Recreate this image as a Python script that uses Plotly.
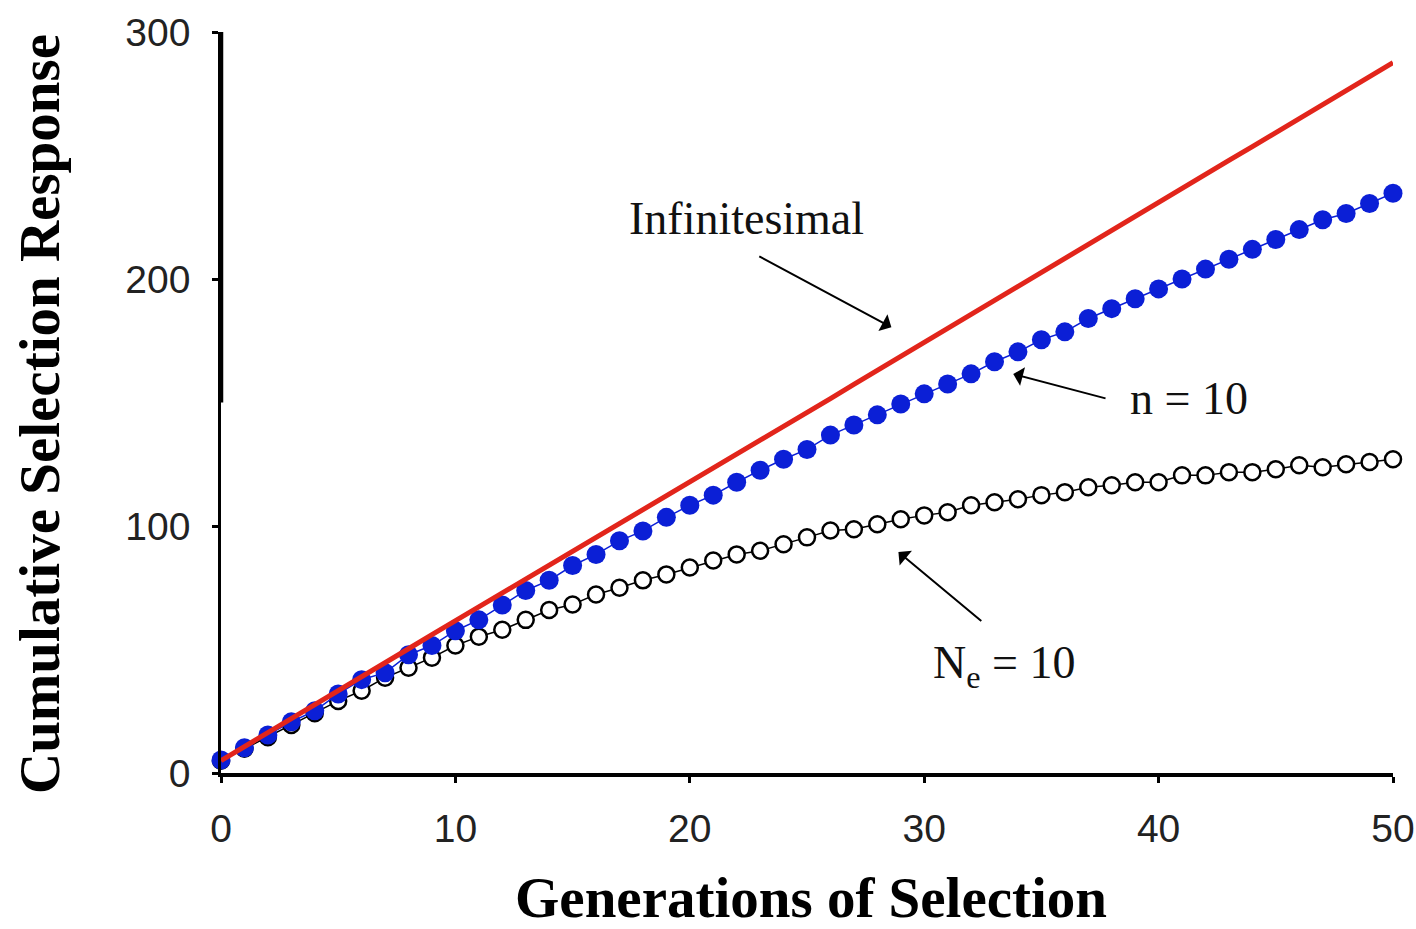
import plotly.graph_objects as go

generations = list(range(51))

infinitesimal = [5.0, 10.6, 16.3, 22.0, 27.6, 33.3, 39.0, 44.6, 50.3, 56.0,
                 61.6, 67.3, 73.0, 78.6, 84.3, 90.0, 95.5, 101.0, 106.5, 112.0,
                 117.5, 123.2, 129.0, 134.6, 140.3, 146.0, 151.6, 157.3, 163.0, 168.6,
                 174.3, 180.0, 185.6, 191.3, 197.0, 202.6, 208.3, 214.0, 219.6, 225.3,
                 231.0, 236.6, 242.3, 248.0, 253.6, 259.3, 265.0, 270.6, 276.3, 282.0,
                 287.6]

n10 = [5.3, 10.2, 15.4, 20.7, 25.2, 32.0, 37.8, 40.6, 47.9, 51.6,
       57.6, 62.0, 68.0, 73.9, 78.0, 84.0, 88.5, 94.0, 98.0, 103.5,
       108.4, 112.5, 117.7, 122.6, 127.0, 131.0, 136.8, 140.9, 145.0, 149.4,
       153.5, 157.5, 161.6, 166.5, 170.5, 175.4, 178.6, 184.0, 188.0, 192.0,
       196.0, 200.0, 204.0, 208.0, 212.0, 216.0, 220.0, 224.0, 226.5, 230.6,
       234.7]

ne10 = [5.0, 9.8, 14.5, 19.4, 24.2, 29.2, 33.3, 38.6, 42.6, 46.7,
        51.6, 55.2, 58.0, 62.0, 66.0, 68.2, 72.3, 75.0, 78.0, 80.4,
        83.2, 86.0, 88.5, 90.0, 92.6, 95.4, 98.2, 98.7, 100.7, 102.7,
        104.3, 105.6, 108.4, 109.6, 110.8, 112.5, 113.7, 115.7, 116.5, 117.7,
        117.7, 120.5, 120.5, 121.8, 121.8, 123.0, 124.6, 123.8, 125.0, 125.9,
        127.0]

x_ticks = [0, 10, 20, 30, 40, 50]
y_ticks = [0, 100, 200, 300]

fig = go.Figure()

fig.add_trace(go.Scatter(
    x=generations, y=ne10, mode="lines+markers",
    line=dict(color="black", width=1.5),
    marker=dict(symbol="circle", size=16, color="white",
                line=dict(color="black", width=2.5)),
    cliponaxis=False, showlegend=False, name="Ne = 10"))

fig.add_trace(go.Scatter(
    x=generations, y=n10, mode="lines+markers",
    line=dict(color="#0b1fd6", width=1.5),
    marker=dict(symbol="circle", size=19, color="#0b1fd6"),
    cliponaxis=False, showlegend=False, name="n = 10"))

fig.add_trace(go.Scatter(
    x=generations, y=infinitesimal, mode="lines",
    line=dict(color="#e2251b", width=5),
    cliponaxis=False, showlegend=False, name="Infinitesimal"))

text_font = dict(family="Liberation Serif", size=46, color="#111")
arrow_common = dict(showarrow=True, text="", arrowhead=1, arrowsize=1.6,
                    arrowwidth=2, arrowcolor="black", axref="x", ayref="y")

fig.add_annotation(x=28.6, y=180.5, ax=22.9, ay=209.5, **arrow_common)
fig.add_annotation(x=33.8, y=161.5, ax=37.8, ay=151.5, **arrow_common)
fig.add_annotation(x=28.9, y=89.5, ax=32.5, ay=61.0, **arrow_common)

fig.add_annotation(x=22.4, y=224.5, text="Infinitesimal", showarrow=False, font=text_font)
fig.add_annotation(x=41.3, y=151.5, text="n = 10", showarrow=False, font=text_font)
fig.add_annotation(x=33.4, y=43.5, text="N<sub>e</sub> = 10", showarrow=False, font=text_font)

title_font = dict(family="Liberation Serif", size=57, color="black")
fig.add_annotation(xref="paper", yref="paper", x=0.503, y=-0.168,
                   xanchor="center", yanchor="middle", showarrow=False,
                   text="<b>Generations of Selection</b>", font=title_font)
fig.add_annotation(xref="paper", yref="paper", x=-0.1544, y=0.4845,
                   xanchor="center", yanchor="middle", showarrow=False, textangle=-90,
                   text="<b>Cumulative Selection Response</b>", font=title_font)

# thicker upper part of the y-axis line, as in the reference
fig.add_shape(type="line", xref="x", yref="y", x0=0, x1=0, y0=150, y1=300,
              line=dict(color="black", width=4.5))

tick_font = dict(family="Liberation Sans", size=39, color="#222")

fig.update_xaxes(
    range=[0, 50], tickvals=x_ticks, ticktext=[str(v) for v in x_ticks],
    showline=True, linecolor="black", linewidth=4,
    ticks="outside", ticklen=6, tickwidth=3, tickcolor="black",
    showgrid=False, zeroline=False, tickfont=tick_font,
    ticklabelstandoff=12, automargin=False)

fig.update_yaxes(
    range=[0, 300], tickvals=y_ticks, ticktext=[str(v) for v in y_ticks],
    showline=True, linecolor="black", linewidth=2.5,
    ticks="outside", ticklen=6, tickwidth=3, tickcolor="black",
    showgrid=False, zeroline=False, tickfont=tick_font,
    ticklabelstandoff=14, automargin=False)

fig.update_layout(
    width=1416, height=929,
    margin=dict(l=221, r=23, t=32, b=156),
    plot_bgcolor="white", paper_bgcolor="white",
)

fig.write_html("out.html")
